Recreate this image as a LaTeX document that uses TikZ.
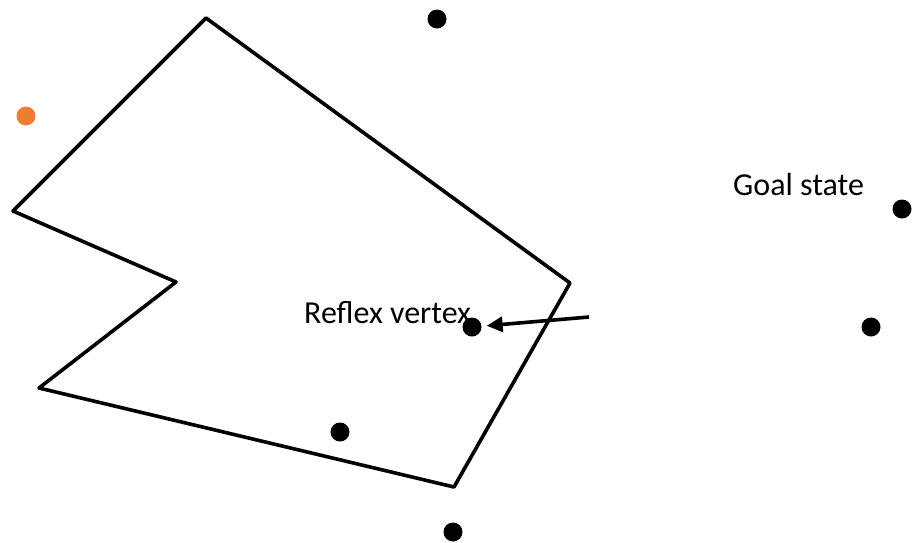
\documentclass[tikz,border=0pt]{standalone}
\usepackage{fontspec}
\setmainfont{Carlito}
\usetikzlibrary{arrows.meta}
\begin{document}
\begin{tikzpicture}[x=1pt,y=-1pt,
  dot/.style={circle,fill=black,inner sep=0pt,minimum size=19pt},
  odot/.style={circle,fill={rgb,255:red,237;green,125;blue,49},inner sep=0pt,minimum size=19pt},
  lbl/.style={font=\fontsize{32}{38}\selectfont,inner sep=0pt,anchor=base west},
  wall/.style={draw=black,line width=3.6pt,line join=round}]
\useasboundingbox (0,0) rectangle (914,542);
\coordinate (p1) at (206,18);
\coordinate (p2) at (570,283);
\coordinate (p3) at (454,487);
\coordinate (p4) at (39,388);
\coordinate (p5) at (176,282);
\coordinate (p6) at (13,211);
\draw[wall] (p1) -- (p2) -- (p3) -- (p4) -- (p5) -- (p6) -- cycle;
\node[odot] (start) at (26,116) {};
\node[dot] (d1) at (437,19) {};
\node[dot] (goal) at (902,209) {};
\node[dot] (d2) at (871,327) {};
\node[dot] (rv) at (472,327) {};
\node[dot] (d3) at (340,432) {};
\node[dot] (d4) at (453,532) {};
\node[lbl] (rvl) at (304,323) {Reflex vertex};
\node[lbl] (gl) at (733,195) {Goal state};
\coordinate (as) at (589,317);
\draw[line width=3.6pt,shorten >=5pt,-{Triangle[length=16pt,width=15pt]}] (as) -- (rv);
\end{tikzpicture}
\end{document}
